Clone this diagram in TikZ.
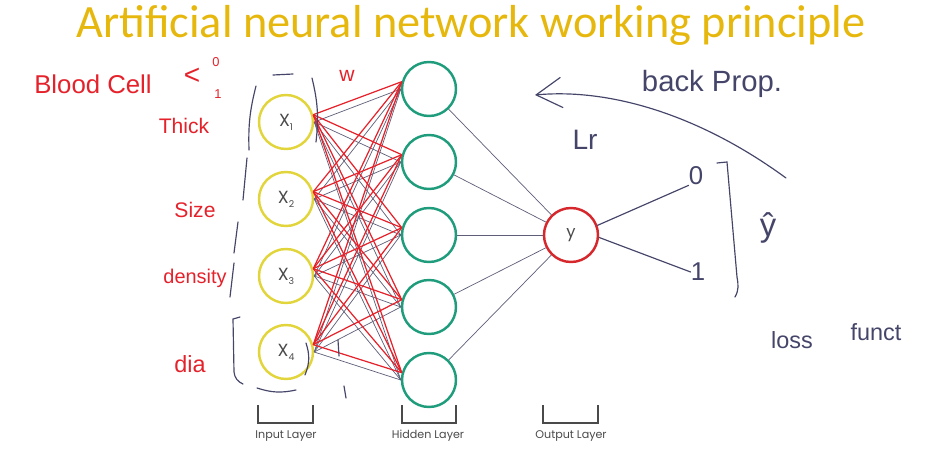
\documentclass[tikz,border=0pt]{standalone}
\usepackage{fontspec}
\setmainfont{Carlito}
\newfontfamily\slidefont{Poppins}
\newfontfamily\penfont{Liberation Sans}
\usetikzlibrary{calc,positioning,arrows.meta}
\definecolor{ANNGold}{HTML}{E6B70C}
\definecolor{ANNYellow}{HTML}{E2D53C}
\definecolor{ANNGreen}{HTML}{1F9C7C}
\definecolor{ANNRed}{HTML}{D6282C}
\definecolor{PenRed}{HTML}{E5222B}
\definecolor{PenNavy}{HTML}{45456A}
\definecolor{WireGray}{HTML}{5E5E78}
\definecolor{SlideGray}{HTML}{4A4A4A}

\begin{document}
\begin{tikzpicture}[x=0.03cm,y=-0.03cm,
        inp/.style={circle,draw=ANNYellow,line width=2.1pt,minimum size=1.62cm,inner sep=0pt,font=\slidefont\fontsize{15pt}{17pt}\selectfont,text=SlideGray},
        hid/.style={inp,draw=ANNGreen},
        outp/.style={inp,draw=ANNRed,font=\slidefont\fontsize{14pt}{16pt}\selectfont},
        wire/.style={draw=WireGray,line width=0.6pt},
        wred/.style={draw=PenRed,line width=1.05pt},
        pen/.style={draw=PenNavy,line width=1pt,line cap=round},
        hr/.style={text=PenRed,inner sep=0pt,font=\penfont\fontsize{18pt}{20pt}\selectfont},
        hb/.style={text=PenNavy,inner sep=0pt,font=\penfont\fontsize{22pt}{24pt}\selectfont},
        brk/.style={draw=SlideGray,line width=1.3pt},
        lay/.style={text=SlideGray,font=\slidefont\fontsize{9.5pt}{11pt}\selectfont}]
        \useasboundingbox (0,0) rectangle (939,467);
        \node[text=ANNGold,font=\fontsize{39.5pt}{41pt}\selectfont] (title) at (471,25) {Artificial neural network working principle};
        % layers
        \node[inp] (x1) at (286,122) {X\raisebox{-0.4ex}{\fontsize{8pt}{9pt}\selectfont 1}};
        \node[inp] (x2) at (286,199) {X\raisebox{-0.4ex}{\fontsize{8pt}{9pt}\selectfont 2}};
        \node[inp] (x3) at (286,276) {X\raisebox{-0.4ex}{\fontsize{8pt}{9pt}\selectfont 3}};
        \node[inp] (x4) at (286,352) {X\raisebox{-0.4ex}{\fontsize{8pt}{9pt}\selectfont 4}};
        \node[hid] (h1) at (429,89) {};
        \node[hid] (h2) at (429,162) {};
        \node[hid] (h3) at (429,235) {};
        \node[hid] (h4) at (429,307) {};
        \node[hid] (h5) at (429,380) {};
        \node[outp] (y) at (571,235) {y};
        \foreach \i in {1,...,4}{\foreach \j in {1,...,5}{\draw[wire] (x\i.east) -- (h\j.west);}}
        \foreach \i in {1,...,4}{\foreach \j in {1,...,5}{\draw[wred] (x\i.15) -- (h\j.165);}}
        \foreach \j in {1,...,5}{\draw[wire] (h\j) -- (y);}
        % layer brackets
        \draw[brk] (258,405) |- (313,423) -- (313,405);
        \draw[brk] (402,405) |- (456,423) -- (456,405);
        \draw[brk] (543,405) |- (598,423) -- (598,405);
        \node[lay] (linp) at (286,436) {Input Layer};
        \node[lay] (lhid) at (428,436) {Hidden Layer};
        \node[lay] (lout) at (571,436) {Output Layer};
        % red notes
        \node[hr,font=\penfont\fontsize{22pt}{24pt}\selectfont] (cell) at (93,84) {Blood Cell};
        \node[hr,font=\penfont\fontsize{24pt}{26pt}\selectfont] (lt) at (192,76) {<};
        \node[hr,font=\penfont\fontsize{11pt}{12pt}\selectfont] (c0) at (216,62) {0};
        \node[hr,font=\penfont\fontsize{11pt}{12pt}\selectfont] (c1) at (218,94) {1};
        \node[hr] (thick) at (184,126) {Thick};
        \node[hr] (size) at (195,210) {Size};
        \node[hr,font=\penfont\fontsize{17pt}{19pt}\selectfont] (dens) at (195,278) {density};
        \node[hr,font=\penfont\fontsize{20pt}{22pt}\selectfont] (dia) at (190,364) {dia};
        \node[hr] (w) at (347,76) {w};
        % pen strokes
        \draw[pen] (256,86) to[bend right=8] (249,150);
        \draw[pen] (247,158) -- (243,200);
        \draw[pen] (238,222) -- (234,253);
        \draw[pen] (234,263) -- (230,297);
        \draw[pen] (240,317) -- (233,319) -- (234,372) to[bend right=30] (243,384);
        \draw[pen] (273,75) -- (293,74);
        \draw[pen] (312,78) to[bend left=10] (316,142);
        \draw[pen] (257,388) to[bend right=15] (296,390);
        \draw[pen] (306,343) to[bend left=20] (305,375);
        \draw[pen] (338,340) -- (339,356);
        \draw[pen] (344,386) -- (346,398);
        % navy notes
        \node[hb,font=\penfont\fontsize{25pt}{27pt}\selectfont] (bp) at (712,84) {back Prop.};
        \node[hb,font=\penfont\fontsize{24pt}{26pt}\selectfont] (lr) at (585,140) {Lr};
        \node[hb] (zero) at (696,176) {0};
        \node[hb] (one) at (698,272) {1};
        \node[hb,font=\penfont\fontsize{28pt}{30pt}\selectfont] (yhat) at (768,228) {ŷ};
        \node[hb,font=\penfont\fontsize{20pt}{22pt}\selectfont] (loss) at (792,340) {loss};
        \node[hb,font=\penfont\fontsize{20pt}{22pt}\selectfont] (funct) at (876,332) {funct};
        \draw[pen] (y.20) -- (zero.south west);
        \draw[pen] (y.-5) -- (one.west);
        \draw[pen] (717,163) -- (727,162) -- (737,277) to[out=-80,in=60] (735,297);
        \coordinate (bpfrom) at (786,178);
        \coordinate (bptip) at (535,95);
        \draw[pen,-{Straight Barb[length=22pt,width=26pt]}] (bpfrom) .. controls (700,115) and (610,88) .. (bptip);
      \end{tikzpicture}
\end{document}
